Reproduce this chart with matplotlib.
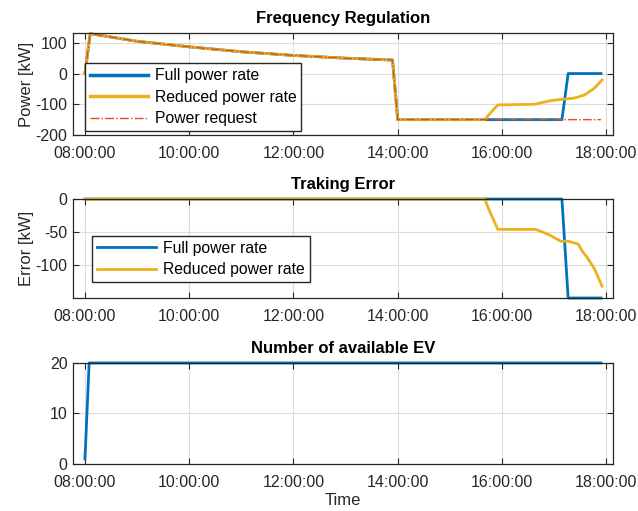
import matplotlib.pyplot as plt
from matplotlib.ticker import FuncFormatter

plt.rcParams['font.family'] = ['Liberation Sans', 'DejaVu Sans']
plt.rcParams['axes.unicode_minus'] = False

# tiempo en horas
full_t = [8.0, 8.1, 9.0, 10.0, 11.0, 12.0, 13.0, 13.9, 14.0, 17.15, 17.27, 17.9]
full_p = [0, 130, 105, 87, 71, 59, 50, 44, -150, -150, 0, 0]
red_t = [8.0, 8.1, 9.0, 10.0, 11.0, 12.0, 13.0, 13.9, 14.0, 15.67, 15.78, 15.92,
         16.62, 16.94, 17.15, 17.38, 17.58, 17.77, 17.92]
red_p = [0, 130, 105, 87, 71, 59, 50, 44, -150, -150, -128, -102,
         -100, -88, -84, -80, -70, -48, -21]
req_t = [8.0, 8.1, 9.0, 10.0, 11.0, 12.0, 13.0, 13.9, 14.0, 17.9]
req_p = [0, 130, 105, 87, 71, 59, 50, 44, -150, -150]

full_err_t = [8.0, 17.15, 17.27, 17.9]
full_err = [0, 0, -150, -150]
red_err_t = [8.0, 15.67, 15.75, 15.92, 16.65, 16.9, 17.13, 17.27, 17.46, 17.55,
             17.62, 17.77, 17.92]
red_err = [0, 0, -16, -46, -46, -54, -64, -64, -68, -80, -87, -105, -132]

ev_t = [8.0, 8.08, 17.9]
ev_n = [1, 20, 20]

xticks = [8, 10, 12, 14, 16, 18]

blue = '#0072BD'
orange = '#EDB120'
red = '#D95319'
dark = '#262626'

fmt = FuncFormatter(lambda v, p: '%02d:00:00' % round(v))

f = plt.figure(figsize=(6.38, 5.11), dpi=100)
ax1 = f.add_axes([0.1144, 0.7358, 0.8464, 0.1996])
ax2 = f.add_axes([0.1144, 0.4168, 0.8464, 0.1937])
ax3 = f.add_axes([0.1144, 0.0920, 0.8464, 0.1977])

ax1.plot(full_t, full_p, color=blue, lw=2, label='Full power rate', clip_on=False)
ax1.plot(red_t, red_p, color=orange, lw=2, label='Reduced power rate', clip_on=False)
ax1.plot(req_t, req_p, color=red, lw=1, ls='-.', label='Power request', clip_on=False)
ax1.set_ylim(-200, 132)
ax1.set_yticks([-200, -100, 0, 100])
ax1.set_ylabel('Power [kW]', fontsize=12, color=dark, labelpad=1)
ax1.set_title('Frequency Regulation', fontsize=12, fontweight='bold', pad=7)
leg1 = ax1.legend(loc='lower left', bbox_to_anchor=(0.022, 0.04), fontsize=11.3,
                  handlelength=3.7, fancybox=False, edgecolor=dark, framealpha=1,
                  borderaxespad=0, borderpad=0.3, labelspacing=0.42, handletextpad=0.45)
for l in leg1.get_lines()[:2]:
    l.set_linewidth(2.5)

ax2.plot(full_err_t, full_err, color=blue, lw=2, label='Full power rate', clip_on=False)
ax2.plot(red_err_t, red_err, color=orange, lw=2, label='Reduced power rate', clip_on=False)
ax2.set_ylim(-150, 0)
ax2.set_yticks([-100, -50, 0])
ax2.set_ylabel('Error [kW]', fontsize=12, color=dark, labelpad=1)
ax2.set_title('Traking Error', fontsize=12, fontweight='bold', pad=7)
ax2.legend(loc='lower left', bbox_to_anchor=(0.035, 0.16), fontsize=11.3,
           handlelength=3.8, fancybox=False, edgecolor=dark, framealpha=1,
           borderaxespad=0, borderpad=0.3, labelspacing=0.42, handletextpad=0.45)

ax3.plot(ev_t, ev_n, color=blue, lw=2, clip_on=False)
ax3.set_ylim(0, 20)
ax3.set_yticks([0, 10, 20])
ax3.set_title('Number of available EV', fontsize=12, fontweight='bold', pad=7)
ax3.set_xlabel('Time', fontsize=12, color=dark, labelpad=2)

for ax in [ax1, ax2, ax3]:
    ax.set_xlim(7.77, 18.13)
    ax.set_xticks(xticks)
    ax.xaxis.set_major_formatter(fmt)
    ax.grid(True, color='#dcdcdc', lw=0.8)
    ax.set_axisbelow(True)
    ax.tick_params(direction='in', top=True, right=True, length=4,
                   labelsize=11.5, labelcolor=dark, color=dark, pad=4)
    ax.tick_params(axis='x', pad=8)
    for s in ax.spines.values():
        s.set_color(dark)
        s.set_linewidth(0.9)

f.savefig('out.png', dpi=100)
